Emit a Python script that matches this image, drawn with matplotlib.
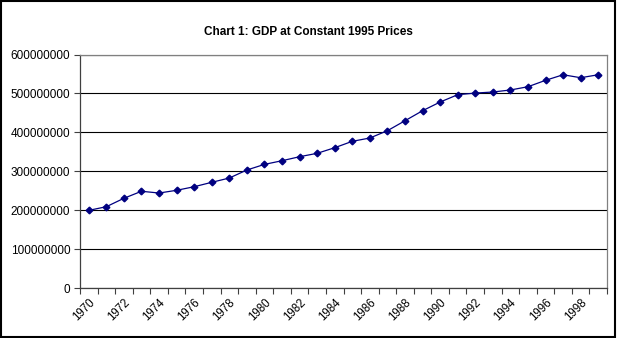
import numpy as np
import matplotlib.pyplot as plt
from matplotlib.patches import Rectangle

plt.rcParams['font.family'] = ['Liberation Sans', 'DejaVu Sans']

years = list(range(1970, 2000))
gdp = [200.0, 209.4, 231.0, 249.0, 244.5, 251.5, 260.7, 272.0, 283.0, 303.6,
       318.0, 327.4, 337.7, 346.4, 360.8, 377.2, 385.7, 404.4, 430.0, 455.7,
       478.0, 496.8, 501.0, 503.7, 508.9, 517.3, 533.7, 548.0, 540.4, 548.0]
gdp = [v * 1e6 for v in gdp]

fig = plt.figure(figsize=(6.17, 3.38), dpi=100)
ax = fig.add_axes([80 / 617, 1 - 288.3 / 338, 527 / 617, 233.8 / 338])

x = np.arange(len(years))
ax.plot(x, gdp, color='#000080', lw=0.9, marker='D', ms=3.4,
        markerfacecolor='#000080', markeredgecolor='#000080', zorder=3)

ax.set_xlim(-0.5, len(years) - 0.5)
ax.set_ylim(0, 600000000)
ax.set_yticks(np.arange(0, 600000001, 100000000))
ax.set_yticklabels([str(int(v)) for v in np.arange(0, 600000001, 100000000)])
ax.yaxis.grid(True, color='black', lw=0.8)
ax.set_axisbelow(True)

# category ticks sit between the years, labels every other year
ax.set_xticks(np.arange(-0.5, len(years), 1.0), minor=True)
ax.set_xticks(x[::2])
ax.set_xticklabels([str(y) for y in years[::2]], rotation=45,
                   ha='right', va='top', rotation_mode='anchor')
ax.tick_params(axis='x', which='major', length=0, labelsize=8.3, pad=6)
ax.tick_params(axis='x', which='minor', length=4, width=0.8, color='#404040')
ax.tick_params(axis='y', length=4, width=0.8, color='#404040', labelsize=8.5, pad=3)

for side in ['left', 'bottom']:
    ax.spines[side].set_color('#404040')
    ax.spines[side].set_linewidth(0.9)
for side in ['top', 'right']:
    ax.spines[side].set_color('#808080')
    ax.spines[side].set_linewidth(0.9)

fig.text(0.5, 1 - 32 / 338, 'Chart 1: GDP at Constant 1995 Prices',
         ha='center', va='center', fontsize=8.5, fontweight='bold')

fig.patches.append(Rectangle((0.002, 0.003), 0.995, 0.994, transform=fig.transFigure,
                             fill=False, edgecolor='black', lw=1.5))

fig.savefig('out.png', dpi=100)
